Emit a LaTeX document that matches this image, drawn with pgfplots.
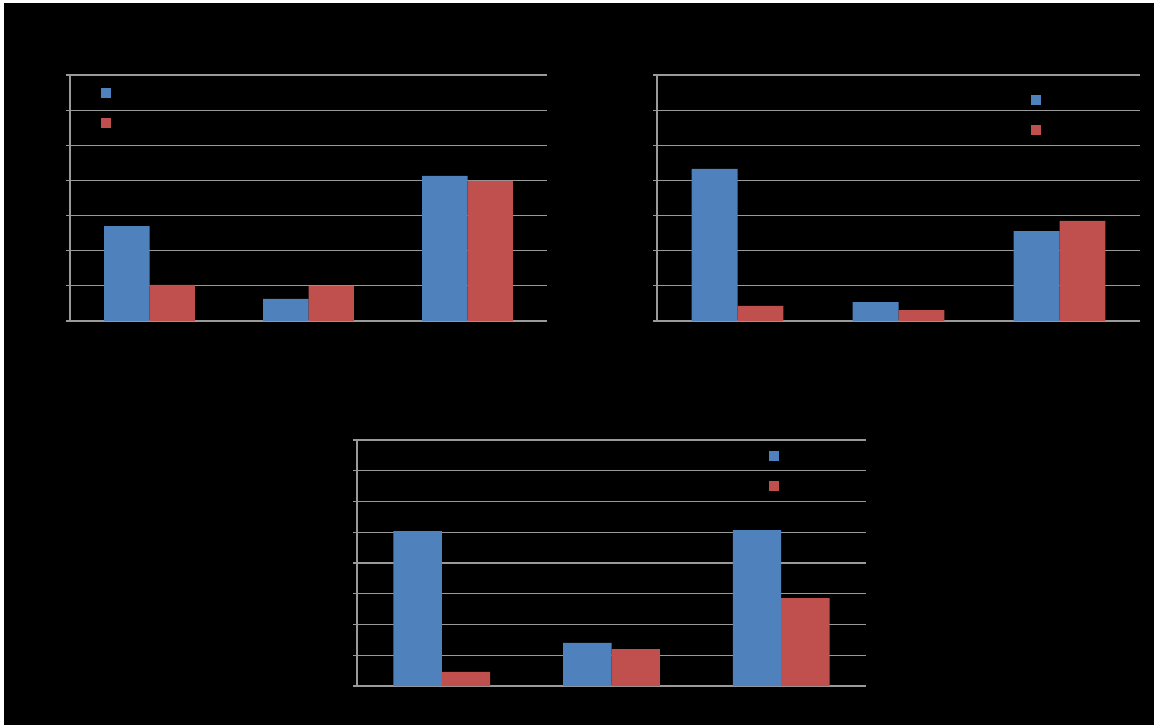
\documentclass[border=0pt]{standalone}
\usepackage{pgfplots}
\pgfplotsset{compat=1.18}
\definecolor{xblue}{HTML}{4F81BD}
\definecolor{xred}{HTML}{C0504D}
\definecolor{xgrid}{HTML}{9A9A9A}
\pgfplotsset{
  xlchart/.style={
    scale only axis,
    ybar=0pt,
    bar width=0.285,
    xmin=-0.5, xmax=2.5,
    ymin=0,
    xtick={0,1,2},
    xticklabels={},
    yticklabels={},
    ymajorgrids,
    grid style={xgrid, line width=0.6pt},
    axis x line*=bottom,
    axis y line*=left,
    axis line style={xgrid, line width=0.6pt, -},
    major tick length=2pt,
    ytick style={xgrid, line width=0.6pt},
    xtick style={draw=none},
    tick align=outside,
    legend style={draw=none, fill=none, text=black, font=\tiny,
      legend cell align=left, row sep=6pt},
    legend image code/.code={\fill[#1] (0pt,-2.5pt) rectangle (5pt,2.5pt);},
  },
}
\begin{document}
\begin{tikzpicture}
\fill[white] (0pt,0pt) rectangle (577pt,362.5pt);
\fill[black] (2pt,0pt) rectangle (577pt,361pt);
% chart 1
\begin{axis}[xlchart, at={(35pt,202pt)}, anchor=south west,
  width=238.5pt, height=123pt, ymax=7, ytick={0,1,...,7},
  legend style={at={(0.051,0.983)}, anchor=north west}]
\addplot[fill=xblue, draw=none] coordinates {(0,2.70) (1,0.63) (2,4.13)};
\addplot[fill=xred, draw=none] coordinates {(0,1.03) (1,1.00) (2,3.99)};
\legend{Series 1, Series 2}
\end{axis}
% chart 2
\begin{axis}[xlchart, at={(328.5pt,202pt)}, anchor=south west,
  width=241.5pt, height=123pt, ymax=7, ytick={0,1,...,7},
  legend style={at={(0.762,0.953)}, anchor=north west}]
\addplot[fill=xblue, draw=none] coordinates {(0,4.33) (1,0.54) (2,2.56)};
\addplot[fill=xred, draw=none] coordinates {(0,0.43) (1,0.31) (2,2.85)};
\legend{Series 1, Series 2}
\end{axis}
% chart 3
\begin{axis}[xlchart, at={(178.5pt,19.5pt)}, anchor=south west,
  width=254.5pt, height=123pt, ymax=8, ytick={0,1,...,8},
  legend style={at={(0.796,0.99)}, anchor=north west}]
\addplot[fill=xblue, draw=none] coordinates {(0,5.04) (1,1.40) (2,5.07)};
\addplot[fill=xred, draw=none] coordinates {(0,0.46) (1,1.20) (2,2.86)};
\legend{Series 1, Series 2}
\end{axis}
\end{tikzpicture}
\end{document}
